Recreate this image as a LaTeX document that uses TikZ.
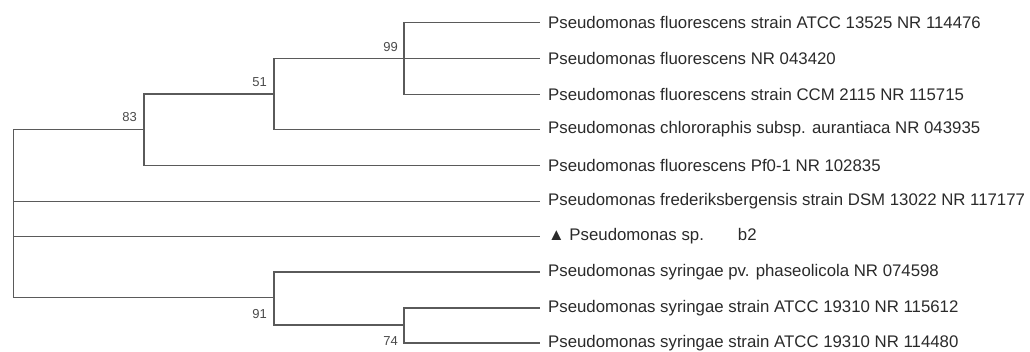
\documentclass[tikz,border=0pt]{standalone}
\usepackage{fontspec}
\setmainfont{Liberation Sans}
\usepackage{xcolor}
\usetikzlibrary{arrows.meta}
\definecolor{branch}{HTML}{5A5A5A}
\definecolor{taxon}{HTML}{2A2A2A}
\definecolor{boot}{HTML}{4A4A4A}

\begin{document}
\begin{tikzpicture}[x=1pt, y=-1pt,
    leaf/.style={anchor=west, inner xsep=8pt, inner ysep=0pt, text=taxon, font=\fontsize{16.8}{18}\selectfont},
    bs/.style={text=boot, inner sep=1pt, anchor=east, font=\fontsize{13}{14}\selectfont},
    edge/.style={draw=branch, line width=1.4pt}]
    \useasboundingbox (0, 0) rectangle (1030, 351);
    \coordinate (root) at (13.3, 213.5);
    \coordinate (n83) at (144, 129.3);
    \coordinate (n51) at (274, 94);
    \coordinate (n99) at (404, 58.7);
    \coordinate (n91) at (274, 297.7);
    \coordinate (n74) at (404, 325);
    \node [leaf] (t1) at (540, 22.7) {Pseudomonas fluorescens strain ATCC 13525 NR 114476};
    \node [leaf] (t2) at (540, 58.7) {Pseudomonas fluorescens NR 043420};
    \node [leaf] (t3) at (540, 94.3) {Pseudomonas fluorescens strain CCM 2115 NR 115715};
    \node [leaf] (t4) at (540, 129.3) {Pseudomonas chlororaphis subsp. aurantiaca NR 043935};
    \node [leaf] (t5) at (540, 165.3) {Pseudomonas fluorescens Pf0-1 NR 102835};
    \node [leaf] (t6) at (540, 201.3) {Pseudomonas frederiksbergensis strain DSM 13022 NR 117177};
    \node [leaf] (t7) at (540, 236.3) {▲ Pseudomonas sp.\hspace{34pt}b2};
    \node [leaf] (t8) at (540, 272) {Pseudomonas syringae pv. phaseolicola NR 074598};
    \node [leaf] (t9) at (540, 308) {Pseudomonas syringae strain ATCC 19310 NR 115612};
    \node [leaf] (t10) at (540, 343) {Pseudomonas syringae strain ATCC 19310 NR 114480};
    \draw [edge] (root) |- (n83);
    \draw [edge] (root) |- (t6.west);
    \draw [edge] (root) |- (t7.west);
    \draw [edge] (root) |- (n91);
    \draw [edge] (n83) |- (n51);
    \draw [edge] (n83) |- (t5.west);
    \draw [edge] (n51) |- (n99);
    \draw [edge] (n51) |- (t4.west);
    \draw [edge] (n99) |- (t1.west);
    \draw [edge] (n99) -- (t2.west);
    \draw [edge] (n99) |- (t3.west);
    \draw [edge] (n91) |- (t8.west);
    \draw [edge] (n91) |- (n74);
    \draw [edge] (n74) |- (t9.west);
    \draw [edge] (n74) |- (t10.west);
    \node [bs] (b99) at ([xshift=-5pt, yshift=12pt]n99) {99};
    \node [bs] (b51) at ([xshift=-6pt, yshift=12pt]n51) {51};
    \node [bs] (b83) at ([xshift=-6pt, yshift=12pt]n83) {83};
    \node [bs] (b91) at ([xshift=-6pt, yshift=-16.5pt]n91) {91};
    \node [bs] (b74) at ([xshift=-5pt, yshift=-16pt]n74) {74};
\end{tikzpicture}
\end{document}
